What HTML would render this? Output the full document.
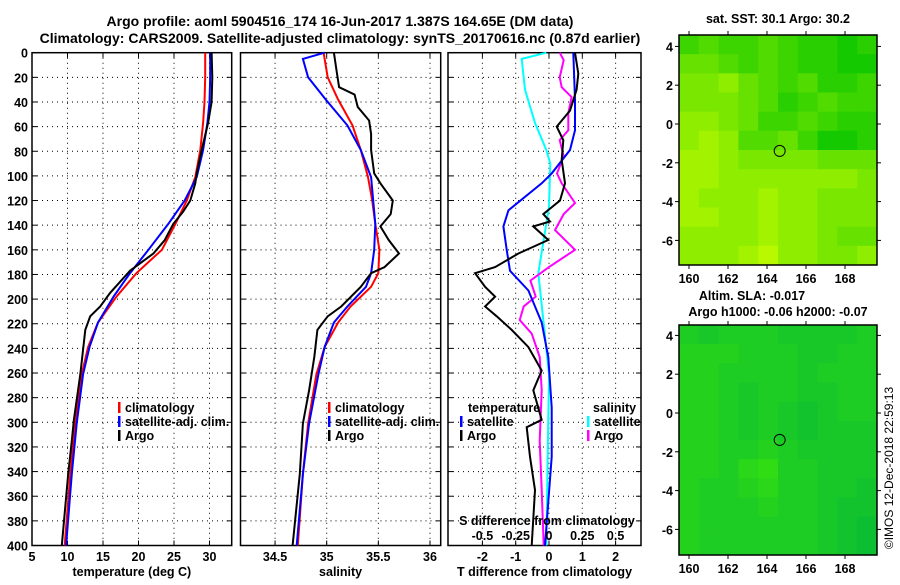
<!DOCTYPE html>
<html><head><meta charset="utf-8"><style>
body{margin:0;background:#fff}
svg text{font-family:"Liberation Sans",sans-serif;font-weight:bold;font-size:12.5px;fill:#000}
</style></head><body>
<svg id="chart" width="900" height="580" viewBox="0 0 900 580" xmlns="http://www.w3.org/2000/svg">
<rect width="900" height="580" fill="#fff"/>
<text x="340" y="26" text-anchor="middle" style="font-size:14px">Argo profile: aoml 5904516_174 16-Jun-2017 1.387S 164.65E (DM data)</text>
<text x="340" y="43" text-anchor="middle" style="font-size:14px">Climatology: CARS2009. Satellite-adjusted climatology: synTS_20170616.nc (0.87d earlier)</text>
<g id="plots"></g>
<text transform="translate(893,468) rotate(-90)" text-anchor="middle" style="font-weight:normal;font-size:12px">©IMOS 12-Dec-2018 22:59:13</text>
</svg>
<script>
// ---- data ----
const tClimD=[0,20,40,57,79,101,120,139,160,179,198,219,239,261,301,342,400];
const tClimV=[29.4,29.4,29.3,29.1,28.7,28.0,26.8,25.2,23.3,19.7,16.9,14.3,12.9,12.0,11.1,10.4,9.6];
const tSatD=[0,20,40,57,79,101,120,139,160,179,198,219,239,261,301,342,400];
const tSatV=[30.1,30.1,30.0,29.7,29.1,28.2,26.5,24.2,21.4,18.8,16.5,14.3,13.1,12.2,11.3,10.6,9.8];
const tArgoD=[0,20,40,57,79,98,106,120,129,139,152,163,177,195,206,214,225,261,298,315,342,400];
const tArgoV=[30.3,30.4,30.3,29.8,28.9,28.2,28.0,27.3,26.3,24.9,23.7,22.1,18.8,16.0,14.6,13.2,12.5,11.8,10.9,10.6,10.1,9.2];
const sClimD=[0,20,38,59,79,101,120,139,160,179,190,206,219,239,261,301,342,400];
const sClimV=[34.97,35.01,35.11,35.25,35.33,35.40,35.44,35.47,35.51,35.50,35.43,35.23,35.11,34.98,34.90,34.82,34.77,34.72];
const sSatD=[0,5,20,38,59,79,101,120,139,160,179,190,206,219,239,261,301,342,400];
const sSatV=[34.98,34.77,34.82,34.99,35.20,35.33,35.43,35.45,35.47,35.46,35.43,35.38,35.20,35.07,34.98,34.92,34.83,34.77,34.71];
const sArgoD=[0,17,28,34,44,55,66,79,98,106,120,131,141,152,163,174,179,190,206,214,225,247,274,301,342,400];
const sArgoV=[35.07,35.10,35.12,35.27,35.30,35.41,35.43,35.43,35.46,35.52,35.64,35.62,35.52,35.60,35.70,35.56,35.43,35.33,35.14,35.01,34.91,34.88,34.83,34.77,34.74,34.67];
const dTSatD=[0,38,63,79,98,106,128,141,160,177,193,219,247,288,328,400];
const dTSatV=[0.73,0.78,0.78,0.63,0.08,-0.22,-1.22,-1.37,-1.27,-1.17,-0.62,-0.22,-0.02,0.08,0.08,-0.12];
const dTArgoD=[0,17,30,47,60,71,87,106,120,131,137,141,152,163,174,179,190,198,206,214,225,239,258,274,298,304,328,355,400];
const dTArgoV=[0.78,0.88,0.83,0.63,0.23,0.43,0.38,0.48,0.33,-0.17,0.03,-0.47,-0.02,-0.92,-1.62,-2.22,-1.92,-1.62,-1.92,-1.57,-1.12,-0.62,-0.22,-0.47,-0.22,-0.67,-0.57,-0.42,-0.52];
const dSSatD=[0,5,30,57,79,90,125,152,179,220,261,400];
const dSSatV=[-0.02,-0.205,-0.18,-0.105,-0.02,0.01,0.0,-0.04,-0.08,-0.04,0.0,-0.02];
const dSArgoD=[0,6,20,28,36,49,63,71,84,98,106,122,131,144,160,174,185,198,206,217,228,247,274,315,355,400];
const dSArgoV=[0.08,0.11,0.08,0.095,0.17,0.145,0.145,0.08,0.11,0.06,0.095,0.195,0.11,0.045,0.195,0.0,-0.14,-0.1,-0.19,-0.22,-0.13,-0.07,-0.055,-0.07,-0.055,-0.04];
const depthTicks=[0,20,40,60,80,100,120,140,160,180,200,220,240,260,280,300,320,340,360,380,400];
const tTicks=[5,10,15,20,25,30];
const sTicks=[34.5,35,35.5,36];
const dTTicks=[-2,-1,0,1,2];
const dSTicks=[-0.5,-0.25,0,0.25,0.5];
const dSTickLabels=["-0.5","-0.25","0","0.25","0.5"];
const latTicks=[4,2,0,-2,-4,-6];
const lonTicks=[160,162,164,166,168];
const sstGrid=[
[.7,.6,.7,.7,.6,.7,.8,.8,.9,.8],
[.5,.5,.6,.7,.6,.7,.8,.8,.9,.9],
[.4,.4,.3,.5,.6,.7,.6,.8,.8,.7],
[.4,.4,.4,.5,.6,.8,.7,.6,.7,.7],
[.3,.3,.4,.5,.7,.7,.6,.7,.8,.8],
[.3,.2,.3,.6,.6,.5,.7,.9,.9,.8],
[.2,.2,.3,.4,.4,.4,.4,.5,.5,.5],
[.2,.2,.3,.3,.3,.3,.3,.3,.3,.4],
[.2,.3,.3,.3,.2,.3,.3,.4,.4,.4],
[.2,.2,.3,.3,.2,.3,.3,.4,.4,.4],
[.3,.3,.3,.3,.2,.3,.3,.4,.5,.5],
[.3,.3,.3,.2,.1,.3,.3,.4,.4,.3]];
const slaGrid=[
[.5,.6,.5,.5,.5,.6,.6,.6,.6,.5],
[.4,.4,.4,.5,.5,.5,.6,.6,.5,.5],
[.4,.4,.5,.5,.5,.5,.6,.5,.5,.5],
[.4,.4,.5,.6,.5,.5,.6,.6,.5,.5],
[.4,.4,.5,.6,.5,.6,.7,.6,.5,.5],
[.4,.4,.5,.6,.5,.6,.7,.6,.6,.6],
[.4,.4,.5,.5,.4,.5,.6,.6,.6,.6],
[.4,.4,.5,.3,.2,.5,.5,.6,.6,.6],
[.4,.5,.5,.4,.3,.5,.5,.6,.6,.7],
[.4,.5,.5,.5,.4,.5,.5,.6,.7,.7],
[.4,.5,.5,.5,.5,.5,.5,.6,.7,.8],
[.4,.5,.5,.5,.5,.5,.5,.6,.7,.8]];
const argoLon=164.65, argoLat=-1.387;

const NS="http://www.w3.org/2000/svg";
const root=document.getElementById('plots');
function mk(tag,attrs,parent){const e=document.createElementNS(NS,tag);for(const k in attrs)e.setAttribute(k,attrs[k]);(parent||root).appendChild(e);return e;}
function txt(x,y,s,anchor,parent,extra){const e=mk('text',Object.assign({x:x,y:y,'text-anchor':anchor||'start'},extra||{}),parent);e.textContent=s;return e;}

const Y0=52.7,Y1=545.5;
const yD=d=>Y0+(d/400)*(Y1-Y0);
function panel(name,x0,x1,xs,ticks,labels,xtitle,showY){
  const g=mk('g',{});
  
  
  ticks.forEach(t=>{const x=xs(t);
    mk('line',{x1:x,x2:x,y1:Y0,y2:Y1,stroke:'#000','stroke-width':1,'stroke-dasharray':'1,4'},g);
    mk('line',{x1:x,x2:x,y1:Y1,y2:Y1-5,stroke:'#000'},g);mk('line',{x1:x,x2:x,y1:Y0,y2:Y0+5,stroke:'#000'},g);
    if(labels){const l=txt(x,561,labels(t),'middle',g);}
  });
  depthTicks.forEach(d=>{const y=yD(d);
    if(d>0&&d<400) mk('line',{x1:x0,x2:x1,y1:y,y2:y,stroke:'#000','stroke-width':1,'stroke-dasharray':'1,4'},g);
    mk('line',{x1:x0,x2:x0+5,y1:y,y2:y,stroke:'#000'},g);mk('line',{x1:x1,x2:x1-5,y1:y,y2:y,stroke:'#000'},g);
    if(showY){const l=txt(28,y+5,String(d),'end',g);}
  });
  const r=mk('rect',{x:x0,y:Y0,width:x1-x0,height:Y1-Y0,fill:'none',stroke:'#000','stroke-width':1.5},g);
  
  
  if(xtitle){const t=txt((x0+x1)/2,576,xtitle,'middle',g);}
  return g;
}
function line(g,ds,vs,xs,color,name){
  const pts=ds.map((d,i)=>xs(vs[i]).toFixed(1)+','+yD(d).toFixed(1)).join(' ');
  const p=mk('polyline',{points:pts,fill:'none',stroke:color,'stroke-width':2},g);
  
  
}
function legend(g,x,y,color,label,name){
  mk('rect',{x:x,y:y-10,width:2.5,height:11,fill:color},g);
  const t=txt(x+7,y,label,'start',g);
  
  
}
// panel 1
const xT=v=>32+(v-5)*7.1;
const g1=panel('temperature-panel',32,231.7,xT,tTicks,t=>String(t),'temperature (deg C)',true);
line(g1,tClimD,tClimV,xT,'#f00','temp-climatology-line');
line(g1,tSatD,tSatV,xT,'#00f','temp-satellite-line');
line(g1,tArgoD,tArgoV,xT,'#000','temp-argo-line');
legend(g1,118,412,'#f00','climatology','legend-climatology');
legend(g1,118,426,'#00f','satellite-adj. clim.','legend-satellite');
legend(g1,118,440,'#000','Argo','legend-argo');
// panel 2
const xS=v=>326.7+(v-35)*103.3;
const g2=panel('salinity-panel',240.5,440.7,xS,sTicks,t=>String(t),'salinity',false);
line(g2,sClimD,sClimV,xS,'#f00','sal-climatology-line');
line(g2,sSatD,sSatV,xS,'#00f','sal-satellite-line');
line(g2,sArgoD,sArgoV,xS,'#000','sal-argo-line');
legend(g2,328,412,'#f00','climatology','legend-climatology');
legend(g2,328,426,'#00f','satellite-adj. clim.','legend-satellite');
legend(g2,328,440,'#000','Argo','legend-argo');
// panel 3
const xDT=v=>549+v*33.3;
const xDS=v=>549+v*133.2;
const g3=panel('difference-panel',448,641,xDT,dTTicks,t=>String(t),'T difference from climatology',false);
line(g3,dSSatD,dSSatV,xDS,'#0ff','sal-diff-satellite-line');
line(g3,dSArgoD,dSArgoV,xDS,'#f0f','sal-diff-argo-line');
line(g3,dTSatD,dTSatV,xDT,'#00f','temp-diff-satellite-line');
line(g3,dTArgoD,dTArgoV,xDT,'#000','temp-diff-argo-line');
{const t=txt(468,412,'temperature','start',g3);}
legend(g3,460,426,'#00f','satellite','legend-temp-satellite');
legend(g3,460,440,'#000','Argo','legend-temp-argo');
{const t=txt(593,412,'salinity','start',g3);}
legend(g3,587,426,'#0ff','satellite','legend-sal-satellite');
legend(g3,587,440,'#f0f','Argo','legend-sal-argo');
{const t=txt(547,525,'S difference from climatology','middle',g3);}
dSTicks.forEach((v,i)=>{const t=txt(xDS(v),540,dSTickLabels[i],'middle',g3);});

// maps
const lonX=l=>689+(l-160)*19.5;
function mapPanel(name,top,lat0y,grid,colorFn,titles){
  const g=mk('g',{});
  
  
  const x0=679,x1=877,y1=top+230;
  const latY=la=>lat0y-la*19.4;
  const rows=grid.length,cols=grid[0].length,cw=(x1-x0)/cols,ch=(y1-top)/rows;
  grid.forEach((row,r)=>row.forEach((v,c)=>{
    const cell=mk('rect',{x:x0+c*cw,y:top+r*ch,width:cw+0.5,height:ch+0.5,fill:colorFn(v)},g);
    
    
  }));
  const fr=mk('rect',{x:x0,y:top,width:x1-x0,height:y1-top,fill:'none',stroke:'#000','stroke-width':1.5},g);
  
  
  latTicks.forEach(la=>{const y=latY(la);
    mk('line',{x1:x0-4,x2:x0,y1:y,y2:y,stroke:'#000'},g);mk('line',{x1:x1,x2:x1+4,y1:y,y2:y,stroke:'#000'},g);
    const t=txt(x0-6,y+5,String(la),'end',g);});
  lonTicks.forEach(lo=>{const x=lonX(lo);
    mk('line',{x1:x,x2:x,y1:top-4,y2:top,stroke:'#000'},g);mk('line',{x1:x,x2:x,y1:y1,y2:y1+4,stroke:'#000'},g);
    const t=txt(x,y1+18,String(lo),'middle',g);});
  const c=mk('circle',{cx:lonX(argoLon),cy:latY(argoLat),r:5.5,fill:'none',stroke:'#000','stroke-width':1},g);
  
  
  titles.forEach(([x,y,s,n])=>{const t=txt(x,y,s,'middle',g);});
}
function sstColor(v){const r=Math.round(204*(1-v)),gr=Math.round(255-60*v);return `rgb(${r},${gr},0)`;}
function slaColor(v){const r=Math.round(60*(1-v)),gr=Math.round(230-50*v),b=Math.round(10+50*v);return `rgb(${r},${gr},${b})`;}
mapPanel('sst-map',35,124,sstGrid,sstColor,[[778,23,'sat. SST: 30.1 Argo: 30.2','sst-map-title']]);
mapPanel('sla-map',325,413,slaGrid,slaColor,[[752,300,'Altim. SLA: -0.017','sla-map-title'],[778,316,'Argo h1000: -0.06 h2000: -0.07','sla-map-subtitle']]);
</script>
</body></html>
